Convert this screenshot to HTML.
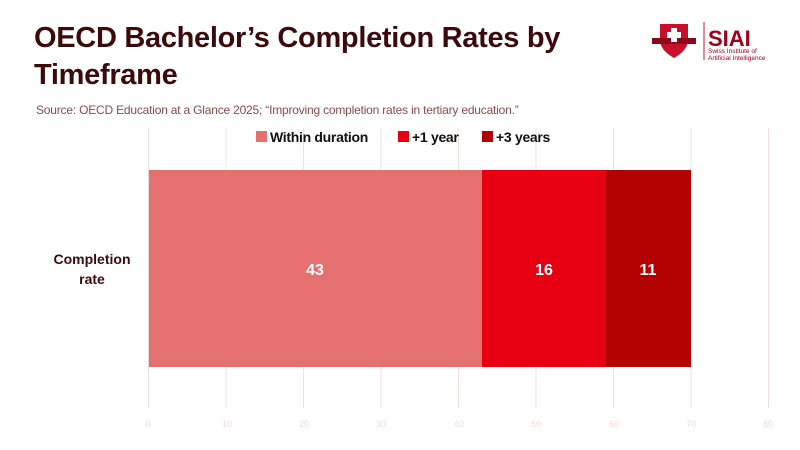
<!DOCTYPE html>
<html><head><meta charset="utf-8"><style>
body{margin:0;width:800px;height:450px;background:#fff;overflow:hidden;font-family:"Liberation Sans",sans-serif;position:relative}
.t{position:absolute;left:34px;top:20px;font-size:29px;letter-spacing:-0.3px;font-weight:bold;color:#3d0a0a;line-height:37px}
.s{position:absolute;left:36px;top:103px;font-size:12px;letter-spacing:-0.2px;color:#8a4a4a}
</style></head><body>
<div class="t">OECD Bachelor’s Completion Rates by<br>Timeframe</div>
<div class="s">Source: OECD Education at a Glance 2025; “Improving completion rates in tertiary education.”</div>
<svg width="800" height="450" style="position:absolute;left:0;top:0" font-family="Liberation Sans, sans-serif">
<g transform="translate(650,20)">
<path d="M10 4 L38 4 L38 20 Q38 30 24 38 Q10 30 10 20 Z" fill="#c8102e"/>
<rect x="2" y="18" width="44" height="6" fill="#8b0a1a"/>
<rect x="21" y="8" width="6" height="14" fill="#fff"/><rect x="17" y="12" width="14" height="6" fill="#fff"/>
<line x1="54" y1="2" x2="54" y2="40" stroke="#c8102e"/>
<text x="58" y="26" font-size="22" font-weight="bold" fill="#a0001a">SIAI</text>
<text x="58" y="33" font-size="6.5" fill="#a0001a">Swiss Institute of</text>
<text x="58" y="40" font-size="6.5" fill="#a0001a">Artificial Intelligence</text>
</g>
<g stroke="#f6dede" stroke-width="1">
<line x1="226" y1="128" x2="226" y2="408"/><line x1="303.5" y1="128" x2="303.5" y2="408"/><line x1="381" y1="128" x2="381" y2="408"/><line x1="458.5" y1="128" x2="458.5" y2="408"/><line x1="536" y1="128" x2="536" y2="408"/><line x1="613.5" y1="128" x2="613.5" y2="408"/><line x1="691" y1="128" x2="691" y2="408"/><line x1="768.5" y1="128" x2="768.5" y2="408"/>
</g>
<line x1="148.5" y1="128" x2="148.5" y2="408" stroke="#ddd"/>
<rect x="149" y="170" width="333" height="197" fill="#e57070"/>
<rect x="482" y="170" width="124" height="197" fill="#e60012"/>
<rect x="606" y="170" width="85" height="197" fill="#b30000"/>
<g fill="#fff" font-weight="bold" font-size="16" text-anchor="middle">
<text x="315" y="275">43</text><text x="544" y="275">16</text><text x="648" y="275">11</text></g>
<g font-size="14" font-weight="bold" fill="#3d0a0a" text-anchor="middle"><text x="92" y="264">Completion</text><text x="92" y="284">rate</text></g>
<g font-size="14" font-weight="bold" fill="#111" letter-spacing="-0.3">
<rect x="256" y="131" width="11" height="11" fill="#e57070"/><text x="270" y="142">Within duration</text>
<rect x="398" y="131" width="11" height="11" fill="#e60012"/><text x="412" y="142">+1 year</text>
<rect x="482" y="131" width="11" height="11" fill="#b30000"/><text x="496" y="142">+3 years</text>
</g>
<g font-size="9" fill="#f8d8d8" text-anchor="middle">
<text x="148" y="427">0</text><text x="227" y="427">10</text><text x="304" y="427">20</text><text x="381" y="427">30</text><text x="459" y="427">40</text><text x="536" y="427">50</text><text x="614" y="427">60</text><text x="691" y="427">70</text><text x="768" y="427">80</text>
</g>
</svg>
</body></html>
